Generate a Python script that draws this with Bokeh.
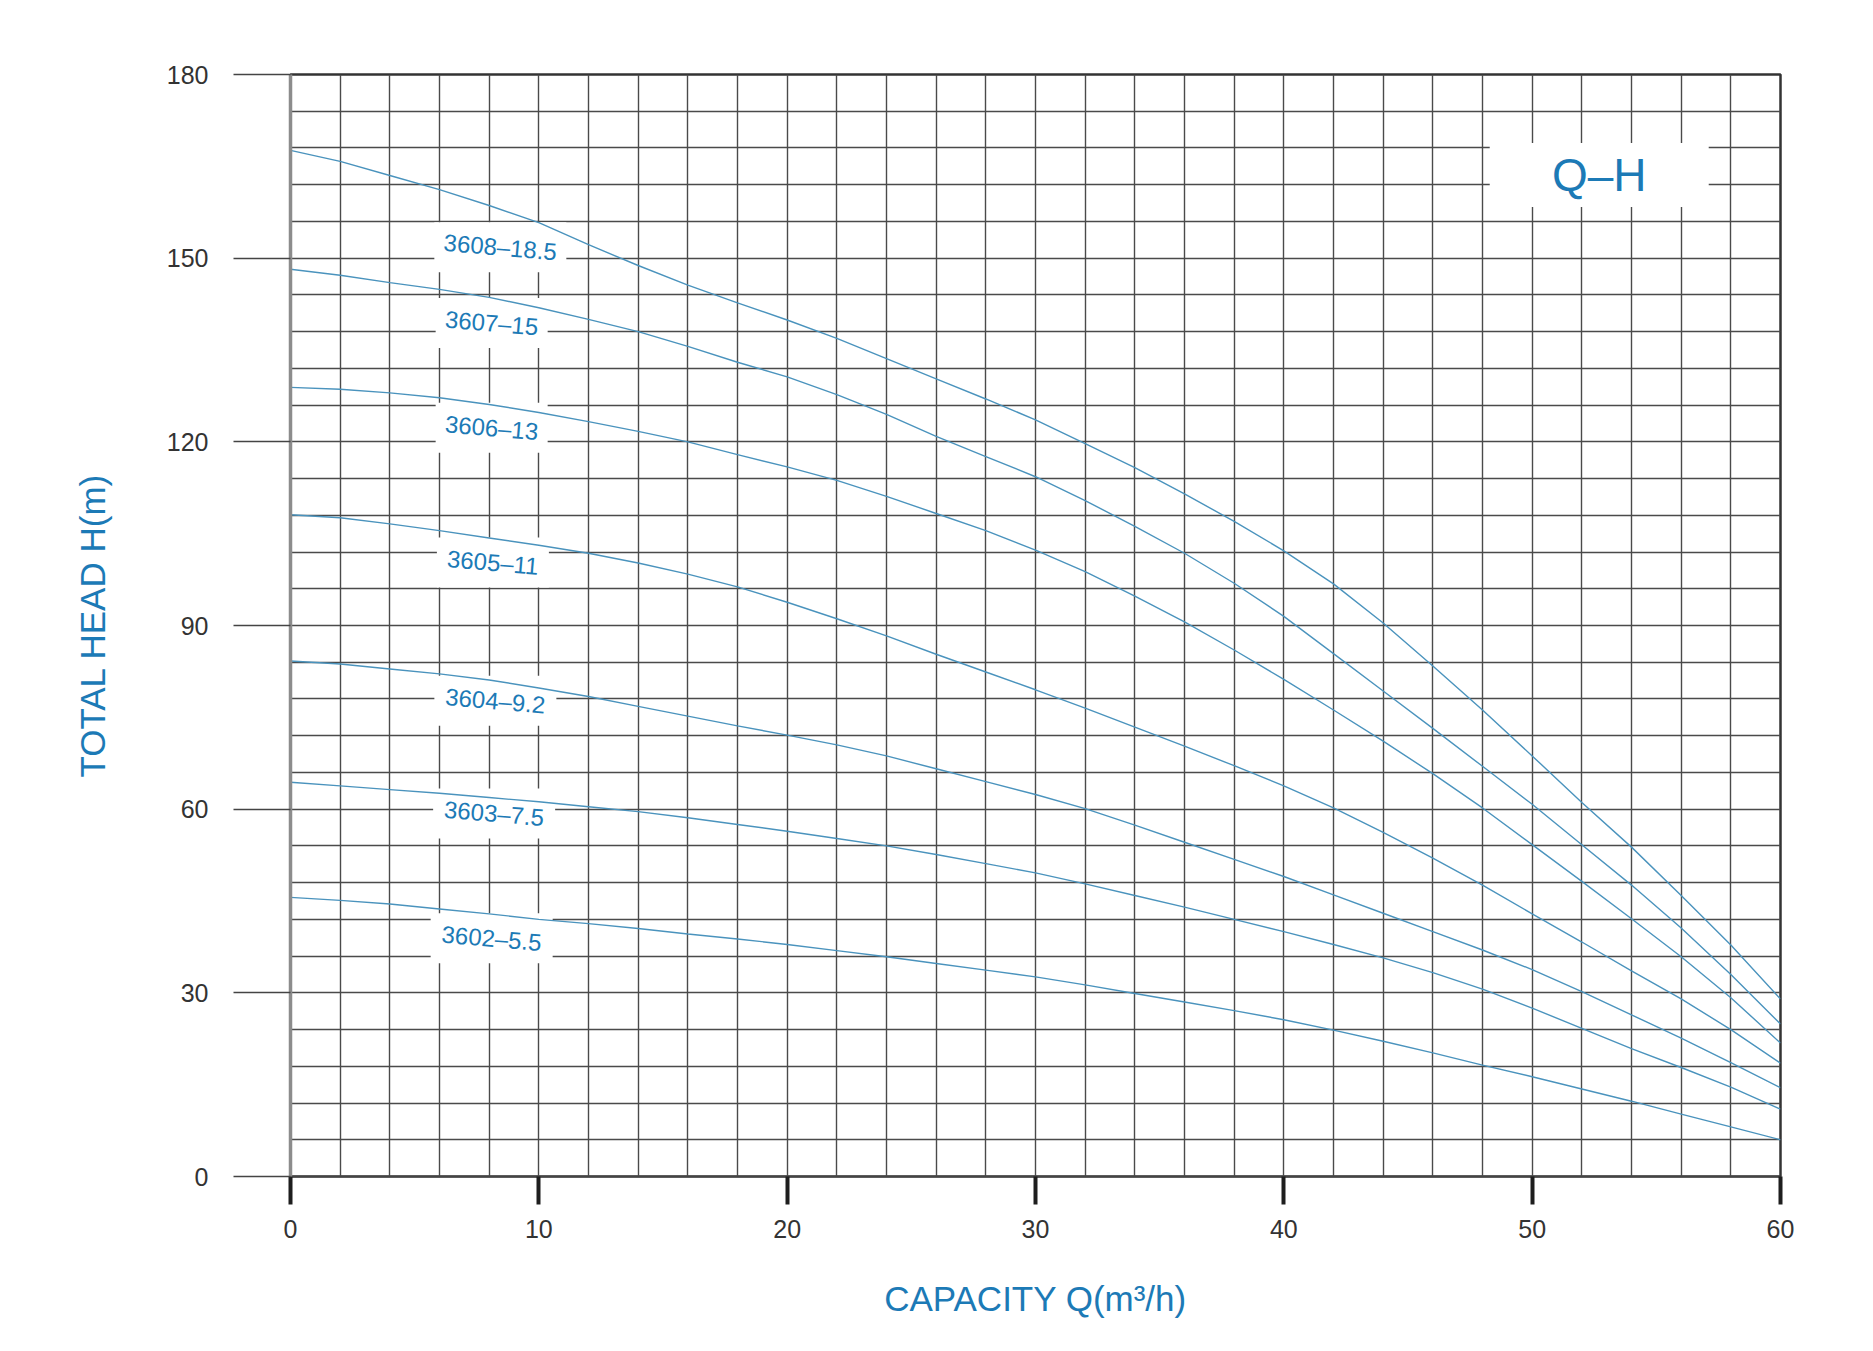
from bokeh.plotting import figure
from bokeh.models import Range1d, FixedTicker, ColumnDataSource
from bokeh.core.properties import value
from bokeh.embed import file_html
from bokeh.resources import INLINE

# ---------------- data ----------------
Q = list(range(0, 61, 2))  # capacity m3/h

H_3608 = [167.6, 165.8, 163.5, 161.2, 158.6, 155.8, 152.2, 148.8, 145.6, 142.7,
          139.9, 136.9, 133.6, 130.3, 127.0, 123.6, 119.7, 115.8, 111.5, 107.0,
          102.2, 96.8, 90.4, 83.4, 76.2, 68.7, 61.1, 53.8, 45.9, 37.8, 29.0]
H_3607 = [148.2, 147.2, 146.0, 144.9, 143.6, 141.9, 140.0, 138.0, 135.6, 133.0,
          130.6, 127.7, 124.5, 120.9, 117.6, 114.3, 110.4, 106.2, 101.8, 96.9,
          91.5, 85.4, 79.3, 73.2, 67.0, 60.8, 54.2, 47.6, 40.6, 33.0, 24.9]
H_3606 = [128.9, 128.6, 128.0, 127.2, 126.1, 124.8, 123.3, 121.7, 120.0, 117.9,
          115.9, 113.7, 111.1, 108.3, 105.5, 102.3, 98.8, 94.8, 90.6, 86.0,
          81.2, 76.2, 71.1, 65.8, 60.2, 54.2, 48.2, 42.1, 35.9, 29.2, 21.8]
H_3605 = [108.1, 107.6, 106.6, 105.5, 104.3, 103.1, 101.8, 100.2, 98.4, 96.3,
          93.8, 91.1, 88.3, 85.3, 82.4, 79.5, 76.5, 73.4, 70.3, 67.1,
          63.8, 60.2, 56.2, 52.0, 47.6, 42.9, 38.3, 33.6, 29.0, 24.0, 18.5]
H_3604 = [84.2, 83.7, 82.9, 82.1, 81.1, 79.8, 78.4, 76.8, 75.2, 73.6,
          72.1, 70.5, 68.7, 66.6, 64.5, 62.4, 60.1, 57.4, 54.6, 51.8,
          49.0, 46.0, 43.0, 40.0, 37.0, 33.8, 30.2, 26.4, 22.6, 18.6, 14.5]
H_3603 = [64.4, 63.8, 63.2, 62.6, 61.9, 61.2, 60.4, 59.6, 58.6, 57.5,
          56.4, 55.2, 54.0, 52.6, 51.1, 49.6, 47.8, 45.9, 44.0, 42.0,
          40.0, 37.9, 35.7, 33.3, 30.6, 27.5, 24.2, 20.9, 17.8, 14.6, 11.0]
H_3602 = [45.6, 45.1, 44.5, 43.7, 42.9, 42.0, 41.3, 40.5, 39.6, 38.8,
          37.9, 36.9, 35.9, 34.8, 33.7, 32.6, 31.3, 29.9, 28.5, 27.1,
          25.6, 23.9, 22.1, 20.2, 18.2, 16.3, 14.3, 12.3, 10.2, 8.1, 6.0]

series = [H_3608, H_3607, H_3606, H_3605, H_3604, H_3603, H_3602]
models = ["3608–18.5", "3607–15", "3606–13", "3605–11", "3604–9.2", "3603–7.5", "3602–5.5"]
label_q = [8.45, 8.1, 8.1, 8.15, 8.25, 8.2, 8.1]
label_h = [151.8, 139.4, 122.3, 100.3, 77.7, 59.3, 38.9]

x_ticks = [0, 10, 20, 30, 40, 50, 60]
y_ticks = [0, 30, 60, 90, 120, 150, 180]
x_grid = list(range(0, 61, 2))
y_grid = list(range(0, 181, 6))

title_text = "Q–H"
title_q, title_h = 52.7, 163.6

# ---------------- styles ----------------
BLUE = "#1c7ab6"
CURVE = "#4a93bd"
GRID = "#4a4a4a"
FONT = "Liberation Sans"

p = figure(width=1865, height=1343,
           x_range=Range1d(0, 60), y_range=Range1d(0, 180),
           output_backend="svg", toolbar_location=None,
           min_border_left=290, min_border_right=85,
           min_border_top=74, min_border_bottom=167)
p.background_fill_color = "white"
p.border_fill_color = "white"
p.outline_line_color = "#333333"
p.outline_line_width = 2.5

# grid
p.xgrid.ticker = FixedTicker(ticks=x_grid)
p.ygrid.ticker = FixedTicker(ticks=y_grid)
for g in (p.xgrid, p.ygrid):
    g.grid_line_color = GRID
    g.grid_line_width = 1.4

# x axis
xa = p.xaxis[0]
xa.ticker = FixedTicker(ticks=x_ticks)
xa.minor_tick_line_color = None
xa.major_tick_in = 0
xa.major_tick_out = 28
xa.major_tick_line_width = 4
xa.major_tick_line_color = "#1e1e1e"
xa.axis_line_color = "#444444"
xa.axis_line_width = 1.6
xa.major_label_text_font = FONT
xa.major_label_text_font_size = "25px"
xa.major_label_text_color = "#333333"
xa.major_label_standoff = 15
xa.axis_label = "CAPACITY Q(m³/h)"
xa.axis_label_text_font = FONT
xa.axis_label_text_font_size = "35px"
xa.axis_label_text_font_style = "normal"
xa.axis_label_text_color = BLUE
xa.axis_label_standoff = 38

# y axis
ya = p.yaxis[0]
ya.ticker = FixedTicker(ticks=y_ticks)
ya.minor_tick_line_color = None
ya.major_tick_in = 0
ya.major_tick_out = 57
ya.major_tick_line_width = 1.6
ya.major_tick_line_color = "#444444"
ya.axis_line_color = "#8c8c8c"
ya.axis_line_width = 3.5
ya.major_label_text_font = FONT
ya.major_label_text_font_size = "25px"
ya.major_label_text_color = "#333333"
ya.major_label_standoff = 25
ya.axis_label = "TOTAL HEAD H(m)"
ya.axis_label_text_font = FONT
ya.axis_label_text_font_size = "35px"
ya.axis_label_text_font_style = "normal"
ya.axis_label_text_color = BLUE
ya.axis_label_standoff = 52

# white boxes behind curve labels and the Q-H title
box_src = ColumnDataSource(dict(
    x=label_q + [title_q],
    y=label_h + [title_h],
    w=[10 * len(m) + 42 for m in models] + [219],
    h=[50] * len(models) + [64],
))
p.rect(x="x", y="y", width="w", height="h", source=box_src,
       width_units="screen", height_units="screen",
       fill_color="white", line_color=None)

# curves
for H in series:
    p.line(Q, H, line_color=CURVE, line_width=1.4)

# curve labels
lab_src = ColumnDataSource(dict(x=label_q, y=label_h, t=models))
p.text(x="x", y="y", text="t", source=lab_src, angle=-0.085,
       text_font=value(FONT), text_font_size="24px", text_color=BLUE,
       text_align="center", text_baseline="middle")

# title
p.text(x=[title_q], y=[title_h], text=[title_text],
       text_font=value(FONT), text_font_size="46px", text_color=BLUE,
       text_align="center", text_baseline="middle")

open("out.html", "w").write(file_html(p, INLINE))
